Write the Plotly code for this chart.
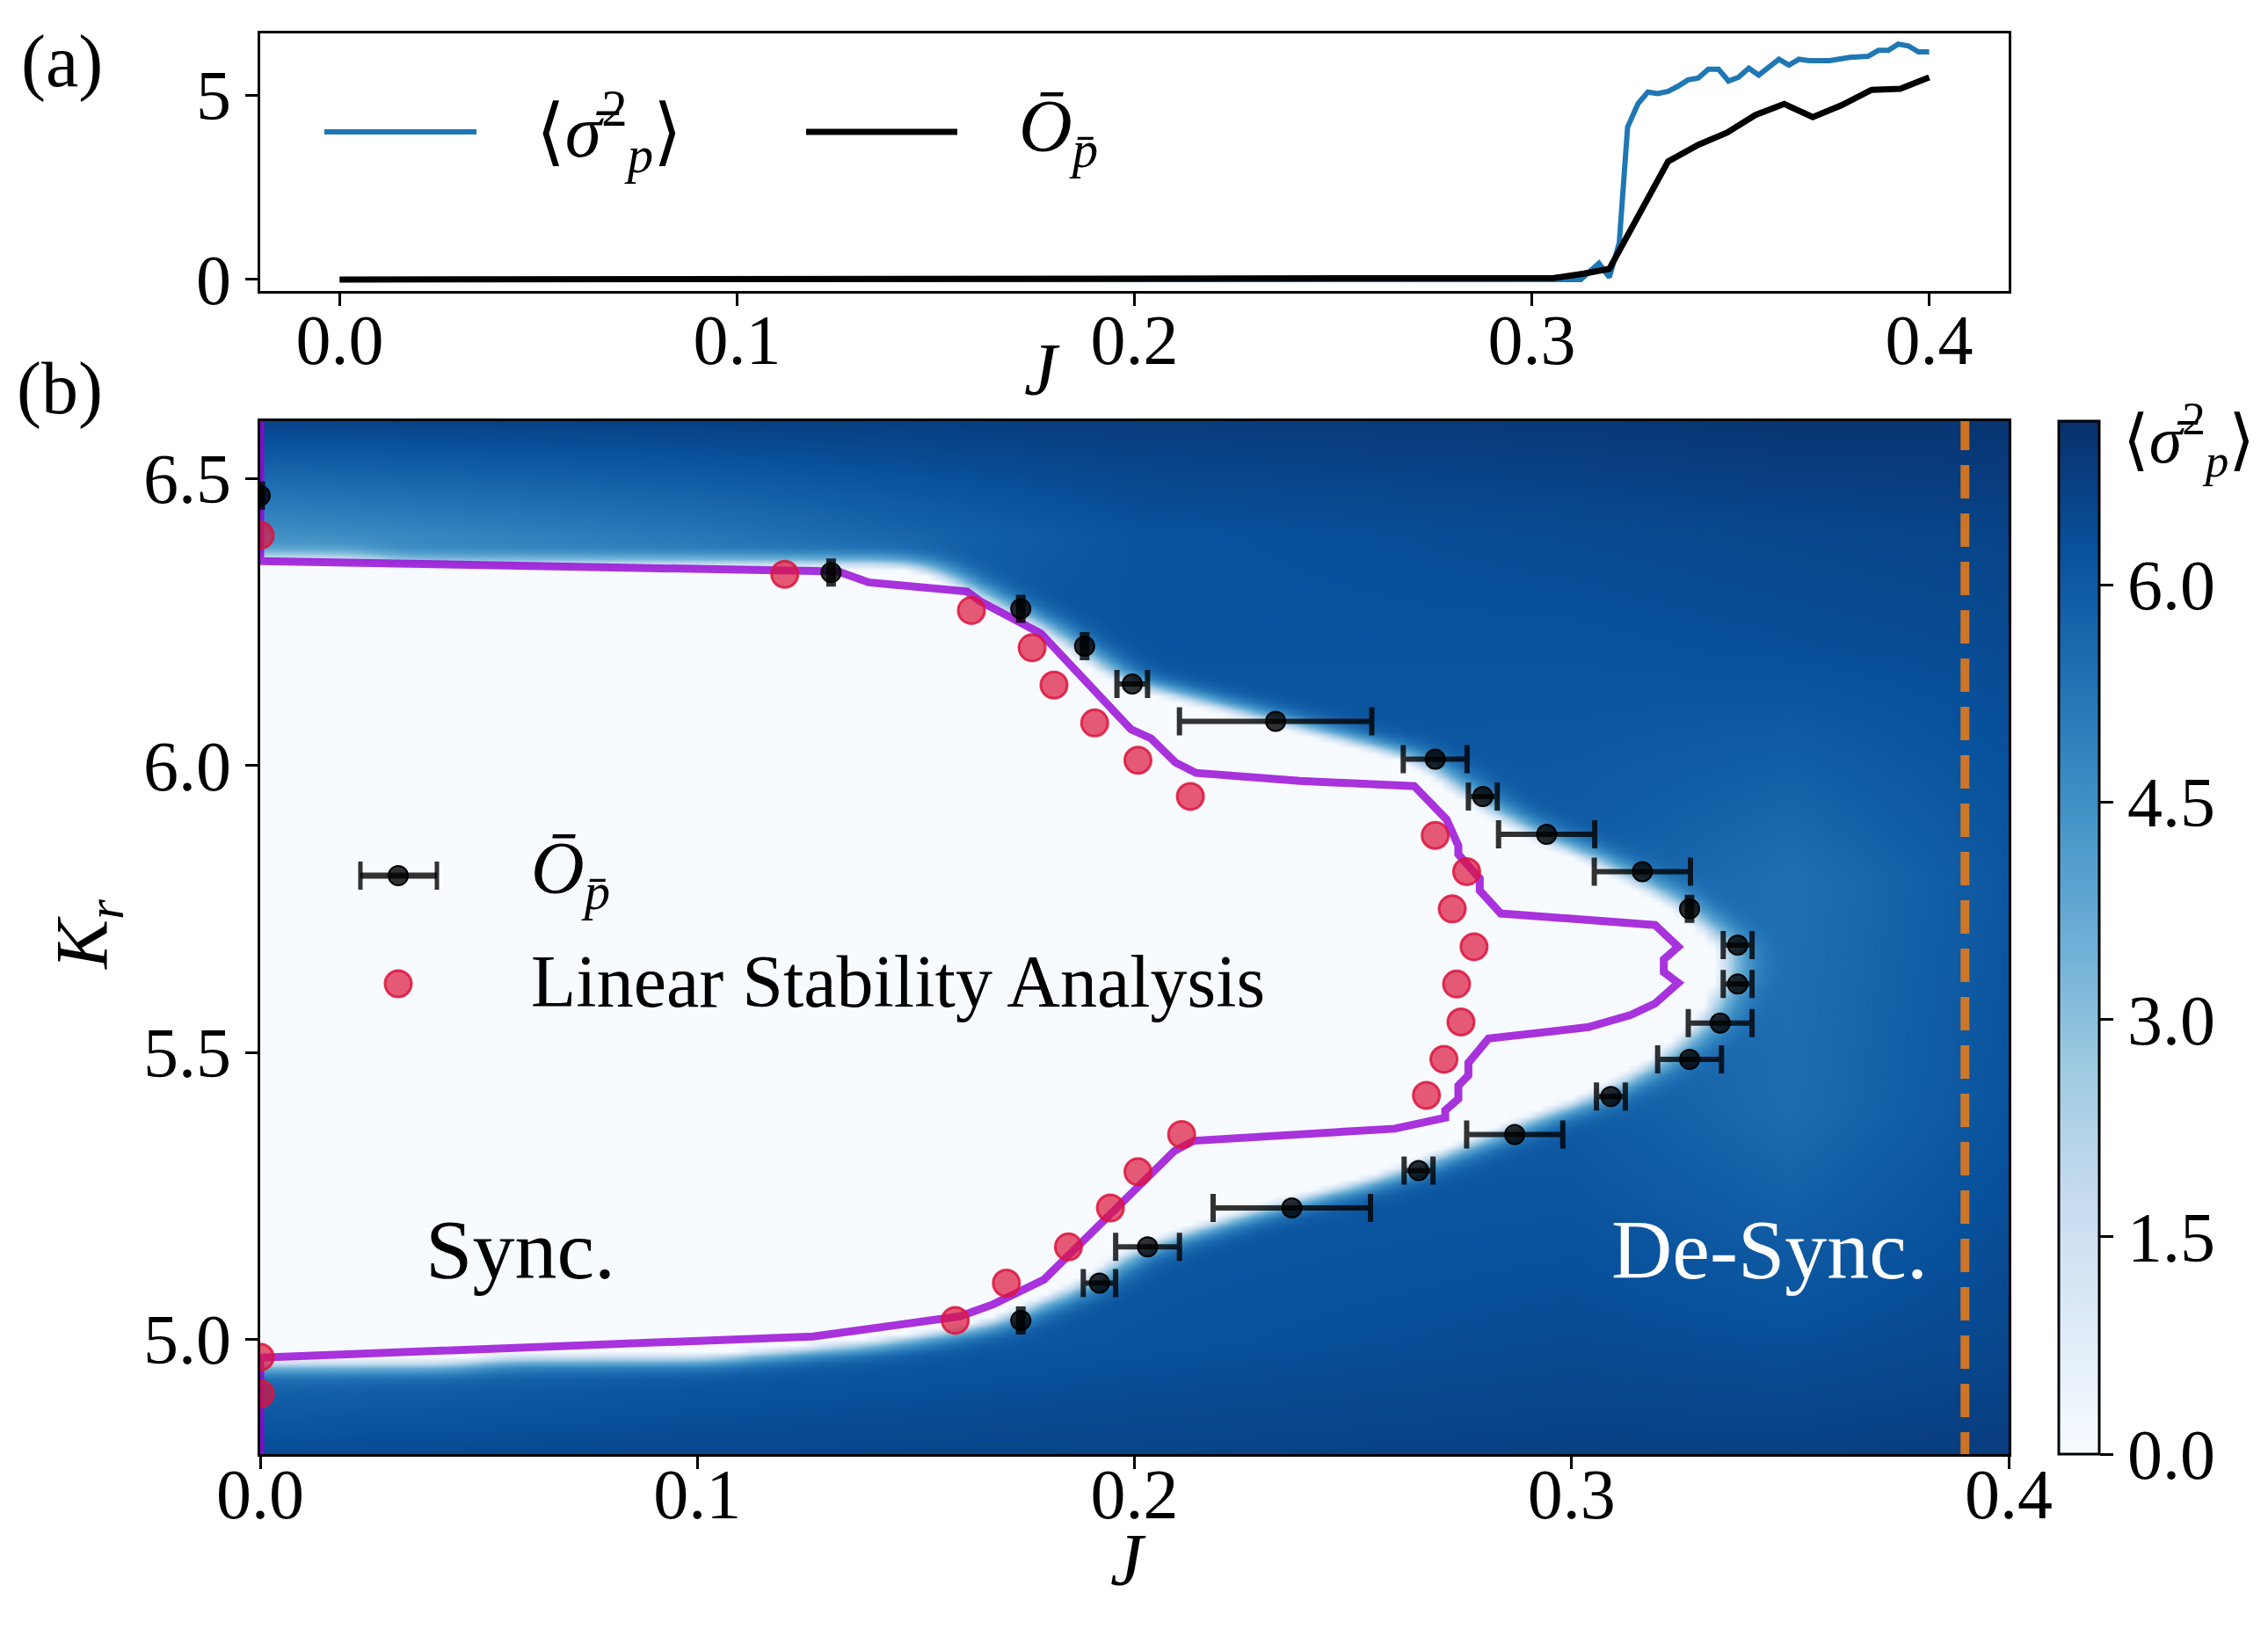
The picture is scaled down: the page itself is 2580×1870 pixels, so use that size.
import numpy as np
import plotly.graph_objects as go

FONT = "Liberation Serif, DejaVu Serif, serif"
W, H = 2580, 1870

# ---------------- panel (a) data ----------------
sigma_J = [0.0, 0.1, 0.2, 0.2928, 0.3123, 0.3169, 0.3195, 0.322, 0.3241, 0.3267, 0.3292,
           0.3317, 0.3343, 0.3368, 0.3393, 0.3419, 0.3444, 0.347, 0.3495, 0.352, 0.3546,
           0.3571, 0.3596, 0.3622, 0.3647, 0.3672, 0.3698, 0.3749, 0.38, 0.3846, 0.3872,
           0.3897, 0.3922, 0.3948, 0.3973, 0.4]
sigma_val = [0, 0, 0, 0, 0.0, 0.44, 0.06, 0.99, 4.13, 4.76, 5.08, 5.04, 5.10, 5.24, 5.41,
             5.46, 5.70, 5.70, 5.38, 5.48, 5.73, 5.54, 5.73, 5.97, 5.81, 5.97, 5.93, 5.93,
             6.02, 6.05, 6.21, 6.21, 6.38, 6.33, 6.17, 6.17]
order_J = [0.0, 0.1, 0.2, 0.2928, 0.3055, 0.3131, 0.3195, 0.3343, 0.3419, 0.3491, 0.3563,
           0.3635, 0.3707, 0.3779, 0.3855, 0.3927, 0.4]
order_val = [0, 0, 0, 0, 0.04, 0.16, 0.29, 3.20, 3.65, 3.98, 4.46, 4.76, 4.40, 4.72, 5.14,
             5.17, 5.48]

# ---------------- panel (b) data ----------------
black_J = [0.0, 0.1306, 0.174, 0.1886, 0.1995, 0.2323, 0.2688, 0.2797, 0.2943, 0.3162, 0.327,
           0.338, 0.338, 0.334, 0.327, 0.309, 0.287, 0.265, 0.236, 0.203, 0.192, 0.174]
black_K = [6.47, 6.336, 6.273, 6.208, 6.142, 6.077, 6.011, 5.946, 5.880, 5.815, 5.750,
           5.687, 5.619, 5.551, 5.488, 5.423, 5.357, 5.294, 5.229, 5.161, 5.098, 5.033]
black_Jerr = [0.0005, 0.0005, 0.0005, 0.0005, 0.0035, 0.022, 0.0073, 0.0033, 0.011, 0.011,
              0.0005, 0.0033, 0.0033, 0.0073, 0.0073, 0.0033, 0.011, 0.0033, 0.018, 0.0073,
              0.0037, 0.0005]

lsa_J = [0.0, 0.0, 0.0, 0.12, 0.1627, 0.1766, 0.1816, 0.1909, 0.2008, 0.2128, 0.2688, 0.276,
         0.2727, 0.2777, 0.2737, 0.2747, 0.2708, 0.2668, 0.2108, 0.2008, 0.1945, 0.1849,
         0.1707, 0.159]
lsa_K = [6.401, 4.969, 4.905, 6.333, 6.270, 6.205, 6.140, 6.074, 6.009, 5.946, 5.878, 5.815,
         5.750, 5.684, 5.619, 5.553, 5.488, 5.425, 5.357, 5.292, 5.229, 5.161, 5.098, 5.033]

boundary_J = [0.0, 0.0, 0.1322, 0.1392, 0.1617, 0.1647, 0.1786, 0.1992, 0.2038, 0.2094, 0.2141,
              0.2378, 0.2640, 0.2714, 0.2741, 0.2741, 0.2790, 0.2790, 0.2838, 0.3191, 0.3244,
              0.3211, 0.3211, 0.3244, 0.3191, 0.3135, 0.3039, 0.2810, 0.2764, 0.2764, 0.2741,
              0.2741, 0.2711, 0.2711, 0.2595, 0.2136, 0.2091, 0.1846, 0.1793, 0.1677, 0.1601,
              0.1265, 0.0, 0.0]
boundary_K = [6.62, 6.356, 6.338, 6.319, 6.303, 6.286, 6.230, 6.063, 6.047, 6.005, 5.987,
              5.973, 5.964, 5.906, 5.860, 5.845, 5.803, 5.782, 5.742, 5.722, 5.684, 5.662,
              5.640, 5.621, 5.585, 5.565, 5.544, 5.524, 5.482, 5.460, 5.442, 5.419, 5.399,
              5.386, 5.367, 5.346, 5.328, 5.146, 5.104, 5.061, 5.040, 5.005, 4.968, 4.78]

desync_J = 0.39

# edge of the synchronised (white) region, J as function of K
edge_K = [4.80, 4.955, 4.975, 5.00, 5.033, 5.098, 5.161, 5.229, 5.294, 5.357, 5.423, 5.488,
          5.551, 5.619, 5.687, 5.750, 5.815, 5.880, 5.946, 6.011, 6.077, 6.142, 6.208, 6.273,
          6.31, 6.345, 6.355, 6.60]
edge_J = [-0.1, -0.1, 0.10, 0.14, 0.166, 0.186, 0.198, 0.226, 0.258, 0.278, 0.302, 0.318,
          0.328, 0.333, 0.333, 0.323, 0.308, 0.288, 0.274, 0.262, 0.228, 0.196, 0.183, 0.168,
          0.158, 0.150, -0.1, -0.1]

# background level of <sigma^2> (coarse)
level_J = [0.0, 0.1, 0.2, 0.3, 0.35, 0.4]
level_K = [4.8, 5.0, 5.4, 5.8, 6.2, 6.4, 6.6]
level_val = [
    [6.4, 6.5, 6.6, 6.7, 6.7, 6.8],
    [5.3, 5.9, 6.2, 6.4, 6.3, 6.5],
    [6.0, 6.0, 6.0, 6.0, 5.5, 6.2],
    [6.0, 6.0, 6.0, 5.9, 5.4, 6.1],
    [6.2, 6.2, 6.2, 6.2, 6.3, 6.4],
    [4.5, 5.2, 6.2, 6.4, 6.5, 6.6],
    [6.6, 6.7, 6.8, 6.9, 7.0, 7.0],
]

cbar_ticks = [0.0, 1.5, 3.0, 4.5, 6.0]
zmax = 7.13

# ---------------- build heatmap field ----------------
J_grid = np.round(np.arange(0, 0.40001, 0.0025), 5)
K_grid = np.round(np.arange(4.80, 6.60001, 0.01), 4)
edge = np.interp(K_grid, edge_K, edge_J)
mask = (J_grid[None, :] < edge[:, None]).astype(float)


def kernel(s):
    r = int(3 * s) + 1
    x = np.arange(-r, r + 1)
    k = np.exp(-0.5 * (x / s) ** 2)
    return k / k.sum()


def blur(a, k, axis):
    p = len(k) // 2
    pads = [(p, p) if i == axis else (0, 0) for i in range(2)]
    ap = np.pad(a, pads, mode="edge")
    return np.apply_along_axis(lambda v: np.convolve(v, k, mode="valid"), axis, ap)


b = blur(mask, kernel(2.4), 1)
b = blur(b, kernel(2.0), 0)
rows = np.array([np.interp(J_grid, level_J, r) for r in level_val])
L = np.array([np.interp(K_grid, level_K, rows[:, j]) for j in range(len(J_grid))]).T
Z = L * np.clip(1 - 2 * b, 0, 1) ** 0.8

blues = [[0.0, "#f7fbff"], [0.125, "#deebf7"], [0.25, "#c6dbef"], [0.375, "#9ecae1"],
         [0.5, "#6baed6"], [0.625, "#4292c6"], [0.75, "#2171b5"], [0.875, "#08519c"],
         [1.0, "#08306b"]]

# ---------------- geometry ----------------
def px(x):
    return x / W


def py(y):
    return 1 - y / H


XD = [px(288), px(2277)]
YA = [py(323), py(30)]
YB = [py(1646), py(471)]

fig = go.Figure()

# panel (a)
fig.add_trace(go.Scatter(x=sigma_J, y=sigma_val, mode="lines", xaxis="x", yaxis="y",
                         line=dict(color="#1f77b4", width=6), showlegend=False))
fig.add_trace(go.Scatter(x=order_J, y=order_val, mode="lines", xaxis="x", yaxis="y",
                         line=dict(color="black", width=7), showlegend=False))

# panel (b)
fig.add_trace(go.Heatmap(x=J_grid, y=K_grid, z=Z, xaxis="x2", yaxis="y2", colorscale=blues,
                         zmin=0, zmax=zmax, zsmooth="best",
                         colorbar=dict(x=px(2334), xanchor="left", y=YB[0], yanchor="bottom",
                                       len=YB[1] - YB[0], lenmode="fraction", thickness=46,
                                       xpad=0, ypad=0,
                                       outlinewidth=3, outlinecolor="black",
                                       tickvals=cbar_ticks,
                                       ticktext=["%.1f" % v for v in cbar_ticks],
                                       ticks="outside", ticklen=15, tickwidth=3,
                                       tickcolor="black",
                                       tickfont=dict(family=FONT, size=80, color="black"))))
fig.add_trace(go.Scatter(x=boundary_J, y=boundary_K, mode="lines", xaxis="x2", yaxis="y2",
                         line=dict(color="rgba(148,0,211,0.8)", width=9), showlegend=False))
fig.add_trace(go.Scatter(x=lsa_J, y=lsa_K, mode="markers", xaxis="x2", yaxis="y2",
                         marker=dict(size=30, color="rgba(220,20,60,0.7)",
                                     line=dict(color="rgba(220,20,60,0.85)", width=3)),
                         showlegend=False))
fig.add_trace(go.Scatter(x=black_J, y=black_K, mode="markers", xaxis="x2", yaxis="y2",
                         marker=dict(size=22, color="rgba(0,0,0,0.8)",
                                     line=dict(color="black", width=2)),
                         error_x=dict(type="data", array=black_Jerr, color="rgba(0,0,0,0.8)",
                                      thickness=6, width=16),
                         showlegend=False))
fig.add_trace(go.Scatter(x=[desync_J, desync_J], y=[4.78, 6.62], mode="lines", xaxis="x2",
                         yaxis="y2", line=dict(color="rgba(240,125,20,0.85)", width=10,
                                               dash="38px,17px"), showlegend=False))

axis_common = dict(showline=True, mirror=True, linewidth=3, linecolor="black", ticks="outside",
                   ticklen=14, tickwidth=3, tickcolor="black", showgrid=False, zeroline=False,
                   automargin=False,
                   tickfont=dict(family=FONT, size=80, color="black"))
xt = [0.0, 0.1, 0.2, 0.3, 0.4]
fig.update_layout(
    template="none",
    width=W, height=H, margin=dict(l=0, r=0, t=0, b=0, autoexpand=False),
    paper_bgcolor="white", plot_bgcolor="white", showlegend=False,
    font=dict(family=FONT, color="black"),
    xaxis=dict(domain=XD, range=[-0.02, 0.42], anchor="y", tickvals=xt,
               ticktext=["%.1f" % v for v in xt], ticklabelstandoff=-30, **axis_common),
    yaxis=dict(domain=YA, range=[-0.31, 6.67], anchor="x", tickvals=[0, 5],
               ticktext=["0", "5"], **axis_common),
    xaxis2=dict(domain=XD, range=[0, 0.4], anchor="y2", tickvals=xt,
                ticktext=["%.1f" % v for v in xt], ticklabelstandoff=-40, **axis_common),
    yaxis2=dict(domain=YB, range=[4.8, 6.6], anchor="x2", tickvals=[5.0, 5.5, 6.0, 6.5],
                ticktext=["5.0", "5.5", "6.0", "6.5"], **axis_common),
)

shapes = []
# legend (a)
shapes.append(dict(type="line", xref="paper", yref="paper", x0=px(361), x1=px(534),
                   y0=py(142), y1=py(142), line=dict(color="#1f77b4", width=6)))
shapes.append(dict(type="line", xref="paper", yref="paper", x0=px(909), x1=px(1081),
                   y0=py(142), y1=py(142), line=dict(color="black", width=7)))
# legend (b)
shapes.append(dict(type="line", xref="paper", yref="paper", x0=px(402), x1=px(489),
                   y0=py(988), y1=py(988), line=dict(color="rgba(0,0,0,0.8)", width=7)))
for cx in (402, 489):
    shapes.append(dict(type="line", xref="paper", yref="paper", x0=px(cx), x1=px(cx),
                       y0=py(972), y1=py(1004), line=dict(color="rgba(0,0,0,0.8)", width=5)))
shapes.append(dict(type="circle", xref="paper", yref="paper", x0=px(434), x1=px(456),
                   y0=py(999), y1=py(977), fillcolor="rgba(0,0,0,0.8)",
                   line=dict(color="black", width=2)))
shapes.append(dict(type="circle", xref="paper", yref="paper", x0=px(430), x1=px(460),
                   y0=py(1126), y1=py(1096), fillcolor="rgba(220,20,60,0.7)",
                   line=dict(color="rgba(220,20,60,0.85)", width=3)))
fig.update_layout(shapes=shapes)


def ann(text, x, y, size=84, xanchor="center", yanchor="middle", color="black", angle=0):
    return dict(text=text, x=px(x), y=py(y), xref="paper", yref="paper", showarrow=False,
                xanchor=xanchor, yanchor=yanchor, textangle=angle,
                font=dict(family=FONT, size=size, color=color))


SIG = "⟨<i>σ̄</i><sup>2</sup><sub><i>p</i></sub>⟩"
OBAR = "<i>Ō</i><sub><i>p̄</i></sub>"
annotations = [
    ann("(a)", 62, 62, 84),
    ann("(b)", 60, 434, 84),
    ann(SIG, 600, 142, 84, xanchor="left"),
    ann(OBAR, 1149, 142, 84, xanchor="left"),
    ann("<i>J</i>", 1177, 412, 84),
    ann("<i>J</i>", 1275, 1766, 84),
    ann("<i>K</i><sub><i>r</i></sub>", 92, 1055, 84, angle=-90),
    ann(OBAR, 594, 986, 84, xanchor="left"),
    ann("Linear Stability Analysis", 594, 1108, 84, xanchor="left"),
    ann("Sync.", 584, 1413, 96),
    ann("De-Sync.", 2187, 1413, 96, xanchor="right", color="white"),
    ann(SIG, 2482, 492, 76),
]
fig.update_layout(annotations=annotations)

fig.write_html("out.html")
